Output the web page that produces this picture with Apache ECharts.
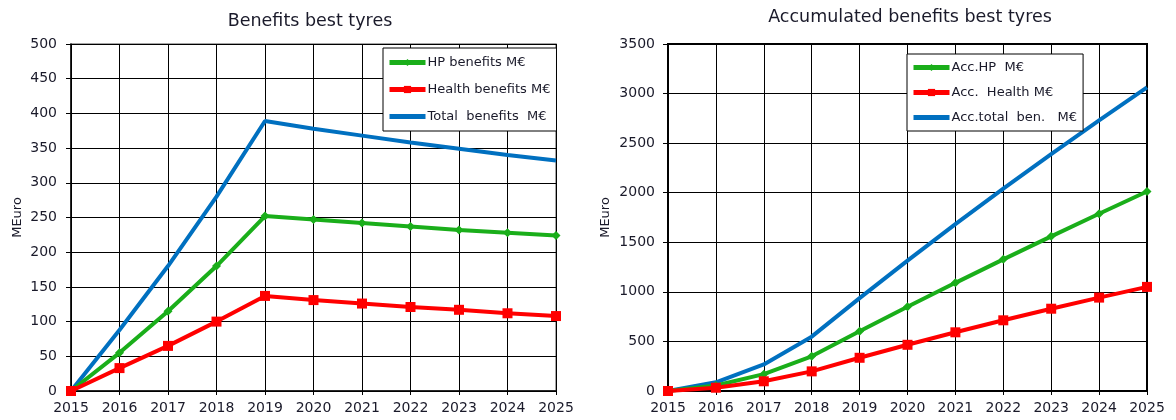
<!DOCTYPE html>
<html>
<head>
<meta charset="utf-8">
<script src="https://cdn.jsdelivr.net/npm/echarts@6/dist/echarts.min.js"></script>
<style>html,body{margin:0;padding:0;background:#fff}#c{width:1176px;height:420px}</style>
</head>
<body>
<div id="c"></div>
<script>
const years = ['2015','2016','2017','2018','2019','2020','2021','2022','2023','2024','2025'];
const hpBenefits = [0, 55, 115, 180, 252, 247, 242, 237, 232, 228, 224];
const healthBenefits = [0, 33, 65, 100, 137, 131, 126, 121, 117, 112, 108];
const totalBenefits = [0, 88, 180, 280, 389, 378, 368, 358, 349, 340, 332];
const accHP = [0, 55, 170, 350, 602, 849, 1091, 1328, 1560, 1788, 2012];
const accHealth = [0, 33, 98, 198, 335, 466, 592, 713, 830, 942, 1050];
const accTotal = [0, 88, 268, 548, 937, 1315, 1683, 2041, 2390, 2730, 3062];

const FONT = 'DejaVu Sans, Liberation Sans, Arial, sans-serif';
const GREEN = '#1aae1a', RED = '#ff0000', BLUE = '#0070c0';
const TXT = '#1a1a2a';

function xAxis(gi){
  return {
    type:'category', data:years, gridIndex:gi, boundaryGap:false,
    axisLine:{show:true, onZero:false, lineStyle:{color:'#000', width:1.5}},
    axisTick:{show:true, length:4, alignWithLabel:true, lineStyle:{color:'#000'}},
    axisLabel:{color:TXT, fontFamily:FONT, fontSize:14, margin:10, interval:0},
    splitLine:{show:true, lineStyle:{color:'#000', width:1}}
  };
}
function yAxis(gi, max, interval, gap, margin){
  return {
    type:'value', gridIndex:gi, min:0, max:max, interval:interval,
    name:'MEuro', nameLocation:'middle', nameRotate:90, nameGap:gap,
    nameTextStyle:{color:TXT, fontFamily:FONT, fontSize:13},
    axisLine:{show:true, lineStyle:{color:'#000', width:1.5}},
    axisTick:{show:true, length:5, lineStyle:{color:'#000'}},
    axisLabel:{color:TXT, fontFamily:FONT, fontSize:14, margin:margin, formatter: v => String(v)},
    splitLine:{show:true, lineStyle:{color:'#000', width:1}}
  };
}
function lineSeries(name, data, color, gi, symbol, size){
  return {
    name:name, type:'line', data:data, xAxisIndex:gi, yAxisIndex:gi,
    symbol:symbol, symbolSize:size, showSymbol: symbol !== 'none',
    lineStyle:{color:color, width:4}, itemStyle:{color:color},
    animation:false, z: 3
  };
}
const legendBase = {
  orient:'vertical', backgroundColor:'#fff', borderColor:'#000', borderWidth:1,
  itemWidth:36, itemHeight:9, align:'left',
  lineStyle:{width:5},
  textStyle:{color:TXT, fontFamily:FONT, fontSize:13, padding:[0,0,0,-3]}
};

const chart = echarts.init(document.getElementById('c'), null, {renderer:'canvas'});
chart.setOption({
  animation:false,
  title:[
    {text:'Benefits best tyres', left:305, top:7, textAlign:'center',
     textStyle:{fontFamily:FONT, fontSize:17.5, fontWeight:'normal', color:TXT}},
    {text:'Accumulated benefits best tyres', left:905, top:3, textAlign:'center',
     textStyle:{fontFamily:FONT, fontSize:17.5, fontWeight:'normal', color:TXT}}
  ],
  grid:[
    {left:71, top:44, width:485, height:347, show:true, borderColor:'#888', borderWidth:1.5, backgroundColor:'#fff'},
    {left:668, top:44, width:479, height:347, show:true, borderColor:'#000', borderWidth:2, backgroundColor:'#fff'}
  ],
  xAxis:[xAxis(0), xAxis(1)],
  yAxis:[yAxis(0, 500, 50, 47, 14), yAxis(1, 3500, 500, 56, 13)],
  legend:[
    Object.assign({}, legendBase, {
      data:['HP benefits M€','Health benefits M€',{name:'Total  benefits  M€', itemStyle:{opacity:0}}],
      left:383, top:48, padding:[8,6,8,4], itemGap:14
    }),
    Object.assign({}, legendBase, {
      data:['Acc.HP  M€','Acc.  Health M€',{name:'Acc.total  ben.   M€', itemStyle:{opacity:0}}],
      left:907, top:54, padding:[7,6,7,4], itemGap:12
    })
  ],
  series:[
    lineSeries('Total  benefits  M€', totalBenefits, BLUE, 0, 'none', 0),
    lineSeries('HP benefits M€', hpBenefits, GREEN, 0, 'diamond', 9),
    lineSeries('Health benefits M€', healthBenefits, RED, 0, 'rect', 10),
    lineSeries('Acc.total  ben.   M€', accTotal, BLUE, 1, 'none', 0),
    lineSeries('Acc.HP  M€', accHP, GREEN, 1, 'diamond', 9),
    lineSeries('Acc.  Health M€', accHealth, RED, 1, 'rect', 10)
  ]
});
</script>
</body>
</html>
